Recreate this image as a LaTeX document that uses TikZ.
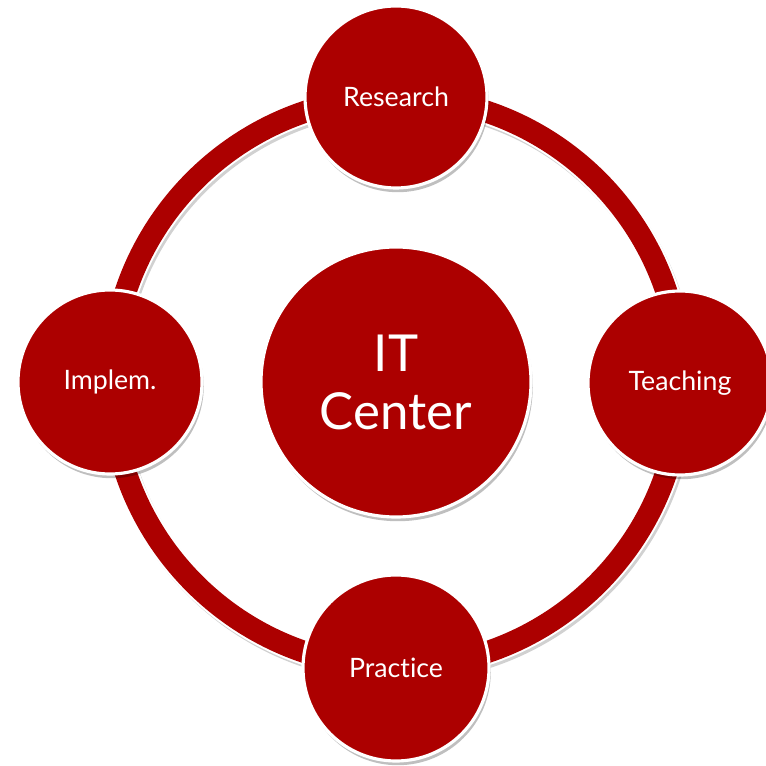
\documentclass[tikz,border=0pt]{standalone}
\usepackage{fontspec}
\setmainfont[Ligatures={NoCommon}]{Lato}
\usetikzlibrary{shadows,calc}
\definecolor{itred}{RGB}{172,0,0}
\tikzset{
  bubble/.style={circle, fill=itred, draw=white, line width=0.9pt, inner sep=0pt,
    text=white, align=center, font=\fontsize{7.6}{9}\selectfont,
    drop shadow={shadow xshift=0.5pt, shadow yshift=-1.2pt, opacity=0.25, fill=black}},
}
\begin{document}
\begin{tikzpicture}
    \useasboundingbox (0,0) rectangle (7.65,-7.66);
    \coordinate (hub) at (3.96,-3.82);
    % the ring
    \draw[black!18, line width=0.25cm] ($(hub)+(0.02,-0.03)$) circle (2.85);
    \draw[white, line width=0.26cm] (hub) circle (2.85);
    \draw[itred, line width=0.22cm] (hub) circle (2.85);
    % the five circles
    \node[bubble, minimum size=2.70cm, font=\fontsize{14.5}{16.5}\selectfont] (center) at (hub) {IT\\Center};
    \node[bubble, minimum size=1.82cm] (research) at (3.96,-0.97) {Research};
    \node[bubble, minimum size=1.84cm] (teaching) at (6.80,-3.83) {Teaching};
    \node[bubble, minimum size=1.86cm] (practice) at (3.96,-6.68) {Practice};
    \node[bubble, minimum size=1.84cm] (implem) at (1.10,-3.82) {Implem.};
\end{tikzpicture}
\end{document}
